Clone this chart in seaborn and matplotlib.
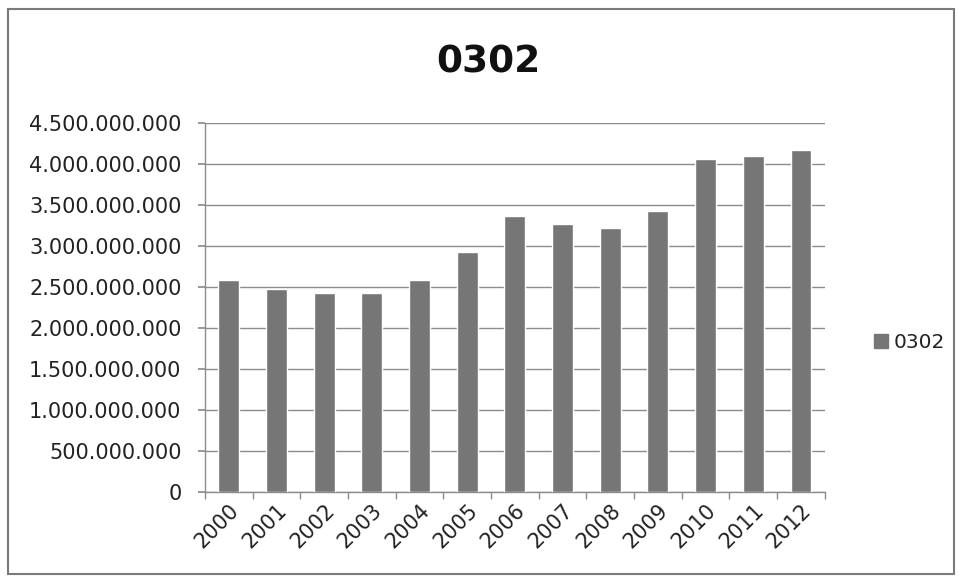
import matplotlib
matplotlib.use("Agg")
import matplotlib.pyplot as plt
import matplotlib.ticker as mticker
from matplotlib.patches import Rectangle
import pandas as pd
import seaborn as sns

# ===============================
# data
# ===============================
years = ["2000", "2001", "2002", "2003", "2004", "2005", "2006",
         "2007", "2008", "2009", "2010", "2011", "2012"]
values = [2.59e9, 2.47e9, 2.42e9, 2.42e9, 2.58e9, 2.93e9, 3.36e9,
          3.27e9, 3.22e9, 3.43e9, 4.065e9, 4.10e9, 4.17e9]
series = "0302"

df = pd.DataFrame({"year": years, "value": values, "series": series})

sns.set_theme(style="white")
plt.rcParams["font.family"] = ["DejaVu Sans"]

fig = plt.figure(figsize=(9.58, 5.8), dpi=100)
ax = fig.add_axes([0.214, 0.152, 0.647, 0.636])

bar_color = "#767676"
sns.barplot(data=df, x="year", y="value", hue="series", palette=[bar_color],
            width=0.44, ax=ax, legend=False, zorder=3)

ax.set_ylim(0, 4.5e9)
ax.yaxis.set_major_locator(mticker.MultipleLocator(5e8))
ax.yaxis.set_major_formatter(
    mticker.FuncFormatter(lambda v, p: f"{int(v):,}".replace(",", ".")))
ax.set_xlim(-0.5, len(years) - 0.5)
ax.grid(axis="y", color="#8c8c8c", linewidth=1.0, zorder=0)
ax.set_xlabel("")
ax.set_ylabel("")

for s in ["top", "right"]:
    ax.spines[s].set_visible(False)
for s in ["left", "bottom"]:
    ax.spines[s].set_color("#8c8c8c")
    ax.spines[s].set_linewidth(1.0)

ax.tick_params(axis="y", labelsize=15, length=5, color="#8c8c8c",
               left=True, pad=12, labelcolor="#222222")
ax.tick_params(axis="x", labelsize=15, length=0, pad=6, labelcolor="#222222")
# x ticks between categories
ax.set_xticks([i - 0.5 for i in range(len(years) + 1)], minor=True)
ax.tick_params(axis="x", which="minor", length=5, color="#8c8c8c", bottom=True)
for lab in ax.get_xticklabels():
    lab.set_rotation(45)
    lab.set_ha("right")
    lab.set_rotation_mode("anchor")

fig.suptitle(series, x=0.51, y=0.892, va="center", fontsize=27,
             fontweight="bold", color="#111111")

# legend on the right
fig.legend(handles=[Rectangle((0, 0), 1, 1, color=bar_color)], labels=[series],
           loc="center left", bbox_to_anchor=(0.893, 0.41), frameon=False,
           fontsize=14.5, handlelength=0.7, handleheight=0.7, handletextpad=0.3,
           labelcolor="#222222")

# chart border
fig.patches.append(Rectangle((0.008, 0.01), 0.988, 0.975,
                             transform=fig.transFigure, fill=False,
                             edgecolor="#7a7a7a", linewidth=1.5))

fig.savefig("out.png", dpi=100)
